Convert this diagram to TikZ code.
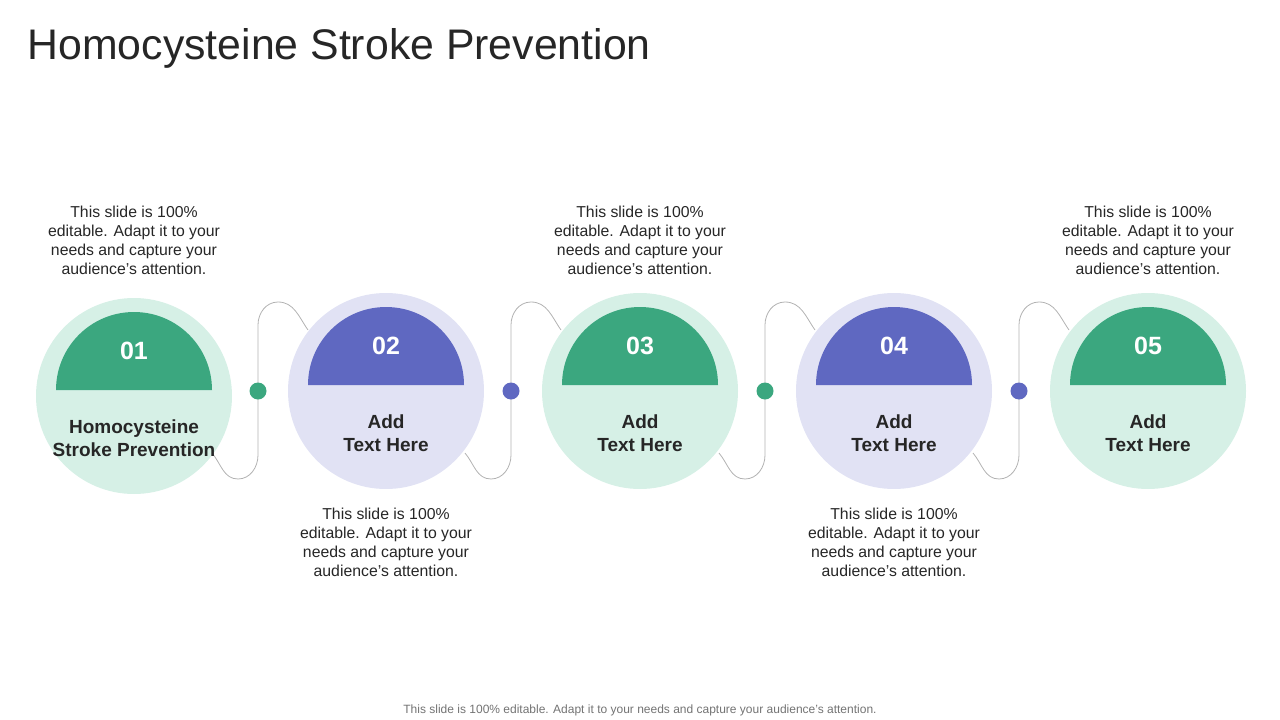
\documentclass[tikz,border=0pt]{standalone}
\usepackage{fontspec}
\setmainfont{Liberation Sans}
\definecolor{gA}{HTML}{3BA77F}
\definecolor{gL}{HTML}{D6F0E6}
\definecolor{pA}{HTML}{5F68C1}
\definecolor{pL}{HTML}{E1E2F4}
\definecolor{txt}{HTML}{262626}
\begin{document}
\begin{tikzpicture}[x=1pt,y=-1pt,
  body/.style={font=\fontsize{15.8}{19}\selectfont,align=center,text=txt},
  lbl/.style={font=\bfseries\fontsize{19}{23}\selectfont,align=center,text=txt},
  num/.style={font=\bfseries\fontsize{25}{28}\selectfont,text=white},
  wire/.style={draw=black!30,line width=0.8pt}]
\useasboundingbox (0,0) rectangle (1280,720);
\node[anchor=west,font=\fontsize{42.8}{46}\selectfont,text=txt] (title) at (24,48) {Homocysteine Stroke Prevention};
\node[font=\fontsize{12}{14}\selectfont,text=black!55] (foot) at (640,710) {This slide is 100\% editable. Adapt it to your needs and capture your audience's attention.};
% connectors
\foreach \i/\cx/\dc in {1/258/gA,2/511/pA,3/765/gA,4/1019/pA}{
  \draw[wire] (\cx-46,453) to[out=-50,in=180] (\cx-20,479) to[out=0,in=-90] (\cx,455) -- (\cx,325) to[out=90,in=180] (\cx+20,302) to[out=0,in=125] (\cx+50,330);
  \fill[\dc] (\cx,391) circle (8.5);
}
\foreach \i/\cx/\cy/\lc/\dc/\n/\t in {1/134/396/gL/gA/01/{Homocysteine\\Stroke Prevention},2/386/391/pL/pA/02/{Add\\Text Here},3/640/391/gL/gA/03/{Add\\Text Here},4/894/391/pL/pA/04/{Add\\Text Here},5/1148/391/gL/gA/05/{Add\\Text Here}}{
  \fill[\lc] (\cx,\cy) circle (98);
  \fill[\dc] (\cx-78,\cy-6) arc (180:360:78) -- cycle;
  \node[num] (n\i) at (\cx,\cy-45) {\n};
  \node[lbl] (l\i) at (\cx,\cy+42) {\t};
}
\foreach \i/\cx/\cy in {1/134/240,3/640/240,5/1148/240,2/386/542,4/894/542}{
  \node[body] (b\i) at (\cx,\cy) {This slide is 100\%\\editable. Adapt it to your\\needs and capture your\\audience's attention.};
}
\end{tikzpicture}
\end{document}
